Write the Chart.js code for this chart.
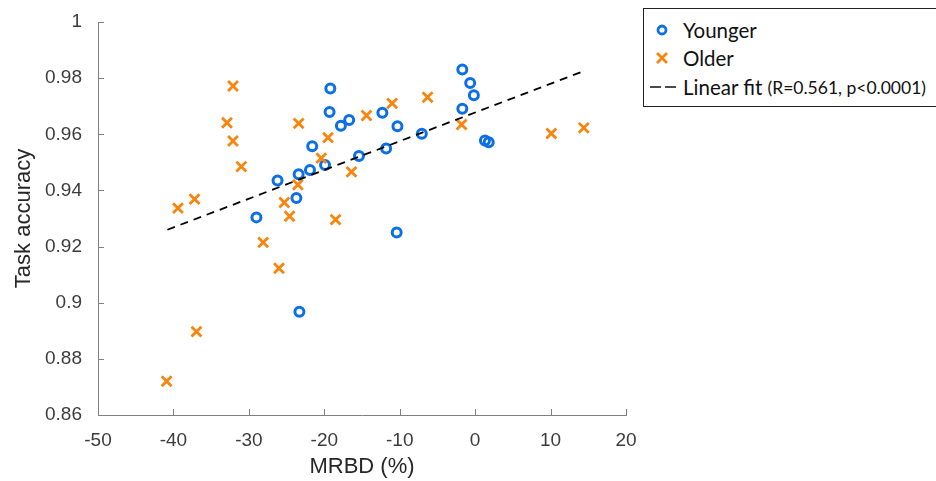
<!DOCTYPE html>
<html>
<head>
<meta charset="utf-8">
<script src="https://cdn.jsdelivr.net/npm/chart.js@4.4.1/dist/chart.umd.min.js"></script>
<style>
  html, body { margin: 0; padding: 0; background: #fff; }
  #wrap { position: relative; width: 936px; height: 481px; overflow: hidden; }
  #legend {
    position: absolute; left: 643px; top: 8px; width: 294px; height: 97px;
    border: 1.5px solid #222; background: #fff;
    font-family: Lato, "Open Sans", sans-serif; color: #111;
  }
  .row { position: absolute; left: 0; height: 28px; display: flex; align-items: center; white-space: nowrap; }
  .row svg { margin-left: 6px; margin-right: 7px; }
  .big { font-size: 20.5px; }
  .small { font-size: 17.5px; }
</style>
</head>
<body>
<div id="wrap">
  <canvas id="chart" width="936" height="481"></canvas>
  <div id="legend">
    <div class="row" style="top:7px">
      <svg width="26" height="20"><circle cx="12" cy="10" r="4" fill="none" stroke="#0b6fe6" stroke-width="2.8"/></svg>
      <span class="big">Younger</span>
    </div>
    <div class="row" style="top:35px">
      <svg width="26" height="20"><path d="M7 5 L17 15 M17 5 L7 15" stroke="#f8850d" stroke-width="2.8"/></svg>
      <span class="big">Older</span>
    </div>
    <div class="row" style="top:64px">
      <svg width="26" height="20"><path d="M0 10 L11 10 M15 10 L26 10" stroke="#111" stroke-width="1.6"/></svg>
      <span class="big">Linear fit&nbsp;</span><span class="small">(R=0.561, p&lt;0.0001)</span>
    </div>
  </div>
</div>
<script>
// MRBD (%) vs task accuracy
var youngX = [-19.2, -19.3, -16.7, -17.8, -12.3, -21.6, -15.4, -11.8, -19.9, -21.9, -23.4, -26.2,
              -23.7, -29.0, -1.7, -0.66, -0.17, -1.7, -10.3, -7.07, 1.3, 1.8, -10.4, -23.3];
var youngY = [0.9763, 0.9679, 0.9651, 0.9630, 0.9677, 0.9557, 0.9523, 0.9549, 0.9491, 0.9473, 0.9458, 0.9435,
              0.9373, 0.9304, 0.9831, 0.9783, 0.9739, 0.9691, 0.9629, 0.9602, 0.9578, 0.9572, 0.9250, 0.8968];

var oldX = [-32.1, -32.9, -32.1, -31.0, -39.4, -37.2, -23.4, -19.5, -20.4, -23.5, -25.3, -24.6,
            -16.4, -14.4, -18.5, -11.0, -6.3, -1.8, 10.1, 14.4, -40.9, -36.95, -28.1, -26.0];
var oldY = [0.9772, 0.9641, 0.9576, 0.9485, 0.9337, 0.9369, 0.9639, 0.9588, 0.9515, 0.9420, 0.9357, 0.9308,
            0.9466, 0.9667, 0.9296, 0.9710, 0.9732, 0.9635, 0.9603, 0.9623, 0.8720, 0.8897, 0.9215, 0.9123];

// linear fit end points
var fitX = [-40.8, 14.0];
var fitY = [0.926, 0.9821];

var axisColor = '#808080';
var tickColor = '#3c3c3c';

function toPoints(xs, ys) {
    return xs.map(function (x, i) { return { x: x, y: ys[i] }; });
}

// MATLAB style ticks pointing into the plot
var inwardTicks = {
    id: 'inwardTicks',
    beforeDatasetsDraw: function (chart) {
        var ctx = chart.ctx, area = chart.chartArea;
        var sx = chart.scales.x, sy = chart.scales.y;
        ctx.save();
        ctx.strokeStyle = axisColor;
        ctx.lineWidth = 1;
        ctx.beginPath();
        sx.ticks.forEach(function (t) {
            var px = Math.round(sx.getPixelForValue(t.value)) + 0.5;
            ctx.moveTo(px, area.bottom);
            ctx.lineTo(px, area.bottom - 6);
        });
        sy.ticks.forEach(function (t) {
            var py = Math.round(sy.getPixelForValue(t.value)) + 0.5;
            ctx.moveTo(area.left, py);
            ctx.lineTo(area.left + 6, py);
        });
        ctx.stroke();
        ctx.restore();
    }
};

var ctx = document.getElementById('chart').getContext('2d');
var myChart = new Chart(ctx, {
    type: 'scatter',
    data: {
        datasets: [{
            label: 'Linear fit',
            type: 'line',
            data: toPoints(fitX, fitY),
            borderColor: '#000',
            borderWidth: 1.8,
            borderDash: [8, 6],
            pointRadius: 0,
            fill: false,
            order: 0
        }, {
            label: 'Younger',
            data: toPoints(youngX, youngY),
            pointStyle: 'circle',
            pointRadius: 4.5,
            borderWidth: 3,
            borderColor: '#0b6fe6',
            backgroundColor: 'rgba(0,0,0,0)',
            order: 2
        }, {
            label: 'Older',
            data: toPoints(oldX, oldY),
            pointStyle: 'crossRot',
            pointRadius: 7,
            borderWidth: 2.8,
            borderColor: '#f8850d',
            backgroundColor: '#f8850d',
            order: 1
        }]
    },
    options: {
        responsive: false,
        animation: false,
        layout: { padding: { left: 0, top: 22, right: 310, bottom: 0 } },
        plugins: {
            legend: { display: false },
            tooltip: { enabled: false }
        },
        scales: {
            x: {
                type: 'linear',
                min: -50,
                max: 20,
                afterFit: function (scale) { scale.height = 66; },
                grid: { display: false },
                border: { display: true, color: axisColor, width: 1 },
                ticks: {
                    stepSize: 10,
                    padding: 6,
                    color: tickColor,
                    font: { family: 'Liberation Sans', size: 19 }
                },
                title: {
                    display: true,
                    text: 'MRBD (%)',
                    color: '#262626',
                    font: { family: 'Liberation Sans', size: 22 },
                    padding: { top: 0, bottom: 1 }
                }
            },
            y: {
                type: 'linear',
                min: 0.86,
                max: 1,
                afterFit: function (scale) { scale.width = 98; },
                grid: { display: false },
                border: { display: true, color: axisColor, width: 1 },
                ticks: {
                    stepSize: 0.02,
                    padding: 8,
                    color: tickColor,
                    font: { family: 'Liberation Sans', size: 19 },
                    callback: function (v) { return String(+v.toFixed(2)); }
                },
                title: {
                    display: true,
                    text: 'Task accuracy',
                    color: '#262626',
                    font: { family: 'Liberation Sans', size: 22 },
                    padding: { top: 11, bottom: 0 }
                }
            }
        }
    },
    plugins: [inwardTicks]
});
</script>
</body>
</html>
